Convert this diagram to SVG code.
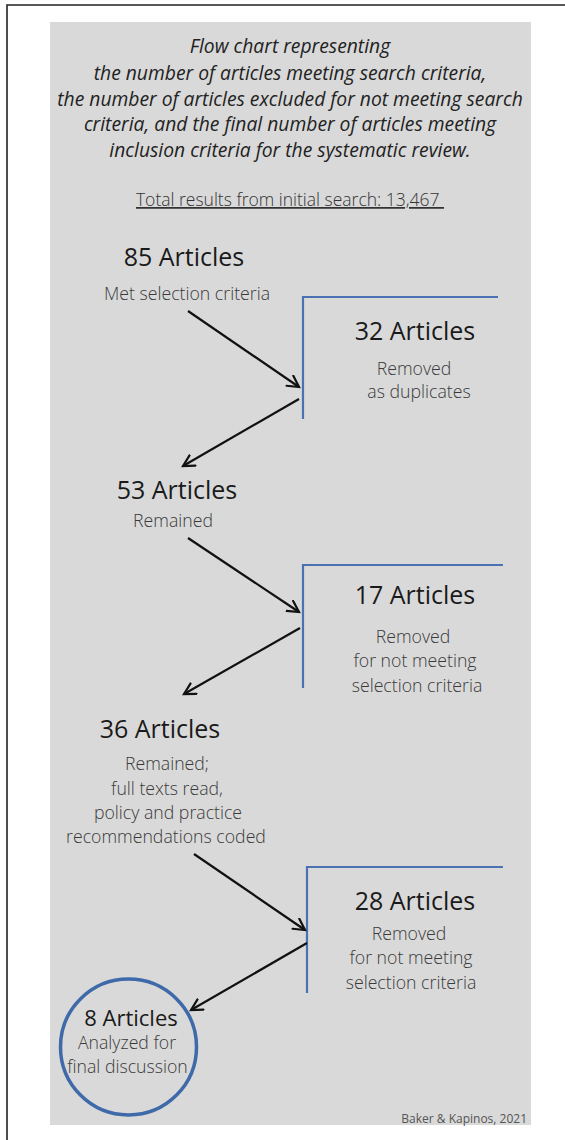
<svg xmlns="http://www.w3.org/2000/svg" width="565" height="1140" viewBox="0 0 565 1140">
<style>
.title{font-family:"Open Sans","Liberation Sans",sans-serif;font-style:italic;font-size:19.3px;fill:#222;text-anchor:middle}
.head{font-family:"Open Sans","Liberation Sans",sans-serif;font-size:25px;fill:#1a1a1a;text-anchor:middle}
.sub{font-family:"Open Sans","Liberation Sans",sans-serif;font-weight:300;font-size:17.7px;fill:#3a3a3a;text-anchor:middle}
.total{font-family:"Open Sans","Liberation Sans",sans-serif;font-weight:300;font-size:17.5px;fill:#333;text-anchor:middle;text-decoration:underline}
.credit{font-family:"Open Sans","Liberation Sans",sans-serif;font-size:12px;fill:#555;text-anchor:end}
.arrow{stroke:#111;stroke-width:2.2;fill:none;marker-end:url(#ah)}
.bracket{stroke:#4a72b2;stroke-width:2.2;fill:none}
</style>
<defs>
<marker id="ah" markerUnits="userSpaceOnUse" markerWidth="20" markerHeight="20" refX="12" refY="7" orient="auto">
<path d="M1,1 L12,7 L1,13" fill="none" stroke="#111" stroke-width="2.2" stroke-linecap="round"/>
</marker>
</defs>
<path d="M7,1140 V5 H565" fill="none" stroke="#222" stroke-width="1.6"/>
<rect x="50" y="22" width="481" height="1103" fill="#d9d9d9"/>
<g id="title">
<text class="title" x="290" y="53">Flow chart representing</text>
<text class="title" x="290" y="80">the number of articles meeting search criteria,</text>
<text class="title" x="290" y="106">the number of articles excluded for not meeting search</text>
<text class="title" x="290" y="131">criteria, and the final number of articles meeting</text>
<text class="title" x="290" y="157">inclusion criteria for the systematic review.</text>
</g>
<g id="total">
<text class="total" x="290" y="206" xml:space="preserve">Total results from initial search: 13,467 </text>
</g>
<g id="n85">
<text class="head" x="184" y="266">85 Articles</text>
<text class="sub" x="187" y="300">Met selection criteria</text>
</g>
<g id="n32">
<path class="bracket" d="M498,297 H303 V419"/>
<text class="head" x="415" y="340">32 Articles</text>
<text class="sub" x="414" y="375">Removed</text>
<text class="sub" x="419" y="398">as duplicates</text>
</g>
<g id="n53">
<text class="head" x="177" y="499">53 Articles</text>
<text class="sub" x="173" y="527">Remained</text>
</g>
<g id="n17">
<path class="bracket" d="M503,565 H303 V688"/>
<text class="head" x="415" y="604">17 Articles</text>
<text class="sub" x="413" y="643">Removed</text>
<text class="sub" x="415" y="667">for not meeting</text>
<text class="sub" x="417" y="692">selection criteria</text>
</g>
<g id="n36">
<text class="head" x="160" y="738">36 Articles</text>
<text class="sub" x="167" y="770">Remained;</text>
<text class="sub" x="167" y="795">full texts read,</text>
<text class="sub" x="168" y="819">policy and practice</text>
<text class="sub" x="166" y="843">recommendations coded</text>
</g>
<g id="n28">
<path class="bracket" d="M503,867 H307 V993"/>
<text class="head" x="415" y="910">28 Articles</text>
<text class="sub" x="409" y="940">Removed</text>
<text class="sub" x="411" y="964">for not meeting</text>
<text class="sub" x="411" y="989">selection criteria</text>
</g>
<g id="n8">
<circle cx="128.5" cy="1047" r="68" fill="none" stroke="#3f6aaa" stroke-width="3.5"/>
<text class="head" x="131" y="1026" style="font-size:22px">8 Articles</text>
<text class="sub" x="127" y="1049">Analyzed for</text>
<text class="sub" x="127.5" y="1073">final discussion</text>
</g>
<g id="connectors">
<line class="arrow" x1="188" y1="311" x2="299" y2="387"/>
<line class="arrow" x1="299" y1="399" x2="183" y2="466"/>
<line class="arrow" x1="188" y1="538" x2="299" y2="612"/>
<line class="arrow" x1="300" y1="628" x2="184" y2="694"/>
<line class="arrow" x1="194" y1="854" x2="305" y2="930"/>
<line class="arrow" x1="307" y1="943" x2="191" y2="1010"/>
</g>
<g id="credit">
<text class="credit" x="527" y="1123">Baker &amp; Kapinos, 2021</text>
</g>
</svg>
